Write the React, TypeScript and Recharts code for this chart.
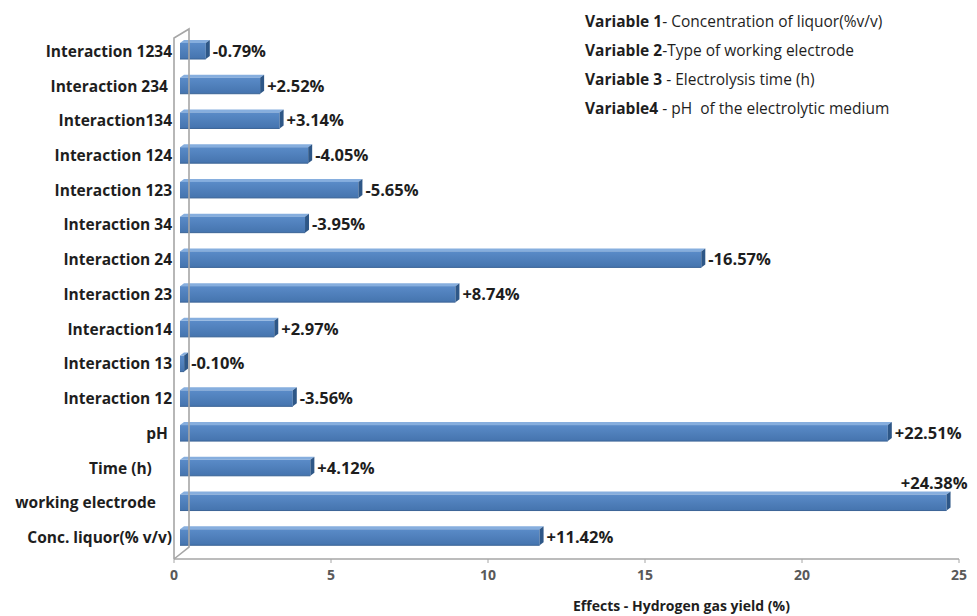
import { Bar, BarChart, LabelList, ReferenceLine, XAxis, YAxis } from "recharts";

// some labels carry trailing blanks in the source chart
const categories = [
	"Interaction 1234",
	"Interaction 234 ",
	"Interaction134",
	"Interaction 124",
	"Interaction 123",
	"Interaction 34",
	"Interaction 24",
	"Interaction 23",
	"Interaction14",
	"Interaction 13",
	"Interaction 12",
	"pH ",
	"Time (h)     ",
	"working electrode    ",
	"Conc. liquor(% v/v)",
];

// bar lengths are the absolute effects, the labels keep the sign
const effects = [0.79, 2.52, 3.14, 4.05, 5.65, 3.95, 16.57, 8.74, 2.97, 0.1, 3.56, 22.51, 4.12, 24.38, 11.42];
const effectLabels = [
	"-0.79%",
	"+2.52%",
	"+3.14%",
	"-4.05%",
	"-5.65%",
	"-3.95%",
	"-16.57%",
	"+8.74%",
	"+2.97%",
	"-0.10%",
	"-3.56%",
	"+22.51%",
	"+4.12%",
	"+24.38%",
	"+11.42%",
];
const xTicks = [0, 5, 10, 15, 20, 25];

const variableNotes = [
	{ head: "Variable 1", rest: "- Concentration of liquor(%v/v)" },
	{ head: "Variable 2", rest: "-Type of working electrode" },
	{ head: "Variable 3", rest: " - Electrolysis time (h)" },
	{ head: "Variable4", rest: " - pH  of the electrolytic medium" },
];

const rows = categories.map((name, i) => ({
	name,
	effect: effects[i],
	label: effectLabels[i],
}));

const W = 977;
const H = 616;
const FONT = "'Open Sans', Lato, sans-serif";
// bars sit a little behind the front plane of the 3D plot
const DEPTH_X = 6;
const DEPTH_Y = -4;

function Bar3D(props: any) {
	const { x, y, width, height } = props;
	const fx = x + DEPTH_X;
	const fy = y + DEPTH_Y;
	const w = Math.max(width + 1, 1);
	const d = 4;
	const dy = 3;
	return (
		<g>
			<polygon
				points={`${fx},${fy} ${fx + d},${fy - dy} ${fx + w + d},${fy - dy} ${fx + w},${fy}`}
				fill="#86aede"
			/>
			<rect x={fx} y={fy} width={w} height={height} fill="url(#barFront)" />
			<line x1={fx} x2={fx + w} y1={fy + height} y2={fy + height} stroke="#3b6496" strokeWidth={1} />
			<polygon
				points={`${fx + w},${fy} ${fx + w + d},${fy - dy} ${fx + w + d},${fy + height - dy} ${fx + w},${fy + height}`}
				fill="#2e5787"
			/>
		</g>
	);
}

function ValueLabel(props: any) {
	const { x, y, width, height, value } = props;
	const end = x + width + DEPTH_X;
	const cy = y + height / 2 + DEPTH_Y;
	const tooWide = end + 75 > W;
	return (
		<text
			x={tooWide ? end + 22 : end + 8}
			y={tooWide ? cy - 19 : cy}
			dy="0.35em"
			textAnchor={tooWide ? "end" : "start"}
			fontFamily={FONT}
			fontWeight={700}
			fontSize={16.5}
			fill="#1e1e1e"
		>
			{value}
		</text>
	);
}

function CategoryTick(props: any) {
	const { x, y, payload } = props;
	return (
		<text
			x={x}
			y={y + DEPTH_Y}
			dy="0.35em"
			textAnchor="end"
			fontFamily={FONT}
			fontWeight={700}
			fontSize={15.5}
			fill="#1e1e1e"
			style={{ whiteSpace: "pre" }}
		>
			{payload.value}
		</text>
	);
}

function Wall(props: any) {
	const { x1, y1, y2 } = props;
	const top = Math.min(y1, y2);
	const bottom = Math.max(y1, y2);
	const bx = x1 + 15;
	return (
		<g stroke="#a6a6a6" strokeWidth={1.6} fill="none">
			<polyline points={`${x1},${bottom} ${x1},${top} ${bx},${top - 9} ${bx},${bottom - 12} ${x1},${bottom}`} />
		</g>
	);
}

export default function App() {
	return (
		<div style={{ position: "absolute", left: 0, top: 0, width: W, height: H, background: "#fff" }}>
			<BarChart
				width={W}
				height={H}
				data={rows}
				layout="vertical"
				barCategoryGap={0}
				margin={{ top: 38, right: 18, bottom: 0, left: 0 }}
			>
				<defs>
					<linearGradient id="barFront" x1="0" y1="0" x2="0" y2="1">
						<stop offset="0%" stopColor="#5a8bc8" />
						<stop offset="100%" stopColor="#4574ae" />
					</linearGradient>
				</defs>
				<XAxis
					type="number"
					domain={[0, 25]}
					ticks={xTicks}
					height={57}
					axisLine={{ stroke: "#a6a6a6", strokeWidth: 1.6 }}
					tickLine={{ stroke: "#a6a6a6" }}
					tickSize={4}
					tickMargin={7}
					tick={{ fontFamily: FONT, fontWeight: 700, fontSize: 14, fill: "#595959" }}
				/>
				<YAxis
					type="category"
					dataKey="name"
					width={174}
					axisLine={false}
					tickLine={false}
					tickSize={2}
					tickMargin={0}
					interval={0}
					tick={<CategoryTick />}
				/>
				<ReferenceLine x={0} shape={(p: any) => <Wall {...p} />} />
				<Bar dataKey="effect" barSize={16} shape={<Bar3D />} isAnimationActive={false}>
					<LabelList dataKey="label" content={<ValueLabel />} />
				</Bar>
			</BarChart>
			<div
				style={{
					position: "absolute",
					left: 585,
					top: 7,
					fontFamily: FONT,
					fontSize: 15.5,
					color: "#1e1e1e",
					lineHeight: "29px",
					whiteSpace: "pre",
				}}
			>
				{variableNotes.map((n) => (
					<div key={n.head}>
						<b>{n.head}</b>
						{n.rest}
					</div>
				))}
			</div>
			<div
				style={{
					position: "absolute",
					left: 573,
					top: 596,
					fontFamily: FONT,
					fontWeight: 700,
					fontSize: 14,
					color: "#1e1e1e",
					whiteSpace: "pre",
				}}
			>
				Effects - Hydrogen gas yield (%)
			</div>
		</div>
	);
}
